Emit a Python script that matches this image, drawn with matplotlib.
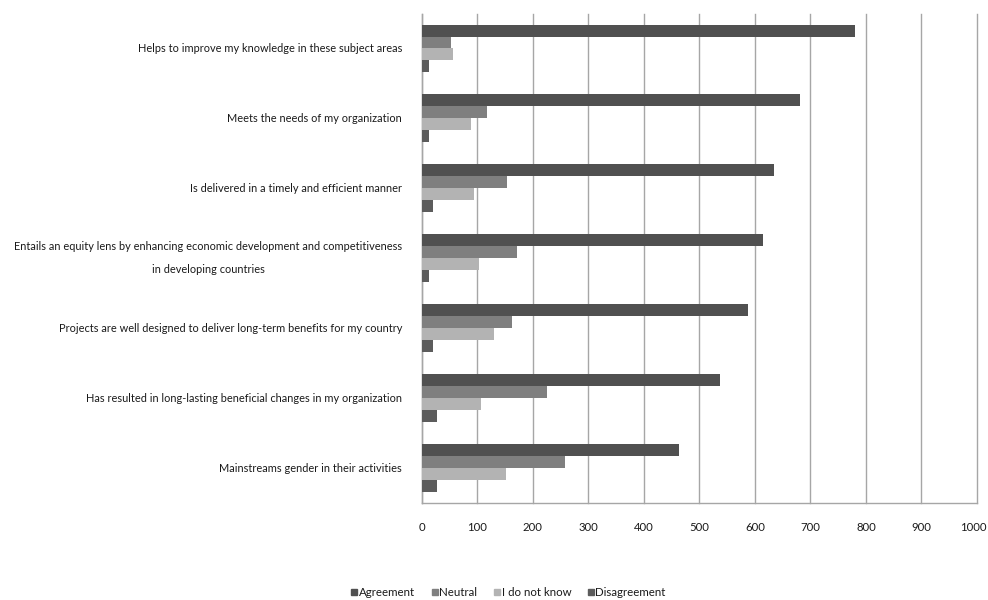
import matplotlib
matplotlib.use("Agg")
import matplotlib.pyplot as plt
from matplotlib.lines import Line2D
from matplotlib.transforms import ScaledTranslation
import numpy as np

plt.rcParams['font.family'] = ['Lato', 'DejaVu Sans']

categories = [
    "Helps to improve my knowledge in these subject areas",
    "Meets the needs of my organization",
    "Is delivered in a timely and efficient manner",
    "Entails an equity lens by enhancing economic development and competitiveness\nin developing countries",
    "Projects are well designed to deliver long-term benefits for my country",
    "Has resulted in long-lasting beneficial changes in my organization",
    "Mainstreams gender in their activities",
]
series_names = ["Agreement", "Neutral", "I do not know", "Disagreement"]
agreement = [780, 681, 634, 614, 588, 538, 464]
neutral = [52, 118, 153, 171, 163, 225, 258]
do_not_know = [56, 89, 95, 103, 131, 107, 151]
disagreement = [13, 13, 21, 13, 21, 27, 27]
x_ticks = [0, 100, 200, 300, 400, 500, 600, 700, 800, 900, 1000]

colors = ["#505050", "#7f7f7f", "#b3b3b3", "#5c5c5c"]
series = [agreement, neutral, do_not_know, disagreement]

fig = plt.figure(figsize=(9.88, 6.0), dpi=100)
ax = fig.add_axes([0.4268, 0.1617, 0.5620, 0.8158])

y = np.arange(len(categories))
h = 0.171
offsets = [-1.5 * h, -0.5 * h, 0.5 * h, 1.5 * h]
for vals, off, col, name in zip(series, offsets, colors, series_names):
    ax.barh(y + off, vals, height=h, color=col, edgecolor='none', label=name, zorder=3)

ax.set_xlim(0, 1000)
ax.set_ylim(len(categories) - 0.5, -0.5)
ax.set_xticks(x_ticks)
ax.set_xticklabels([str(t) for t in x_ticks])
ax.set_yticks(y)
ax.set_yticklabels(categories)
for lbl in ax.get_yticklabels():
    lbl.set_horizontalalignment('right')
    lbl.set_verticalalignment('center')
    lbl.set_multialignment('center')
    lbl.set_linespacing(2.3)

ax.xaxis.grid(True, color='#a6a6a6', linewidth=1.0, zorder=0)
for gl in ax.get_xgridlines():
    gl.set_clip_on(False)
ax.yaxis.grid(False)
for s in ['top', 'right']:
    ax.spines[s].set_visible(False)
for s in ['left', 'bottom']:
    ax.spines[s].set_color('#a6a6a6')
    ax.spines[s].set_linewidth(1.0)

ax.tick_params(axis='x', length=0, labelsize=8.2, pad=14, labelcolor='#1a1a1a')
ax.tick_params(axis='y', length=0, labelsize=7.9, pad=14, labelcolor='#1a1a1a')

# keep the last x tick label inside the canvas
last = ax.get_xticklabels()[-1]
last.set_transform(last.get_transform() + ScaledTranslation(-4 / 100, 0, fig.dpi_scale_trans))

handles = [Line2D([0], [0], marker='s', linestyle='none', markersize=5,
                  markerfacecolor=c, markeredgecolor=c) for c in colors]
fig.legend(handles, series_names, loc='center', bbox_to_anchor=(0.514, 0.013),
           ncol=4, frameon=False, fontsize=8.3, handletextpad=0.0,
           columnspacing=1.3, handlelength=0.8, labelcolor='#1a1a1a')

fig.savefig("out.png", dpi=100, facecolor='white')
